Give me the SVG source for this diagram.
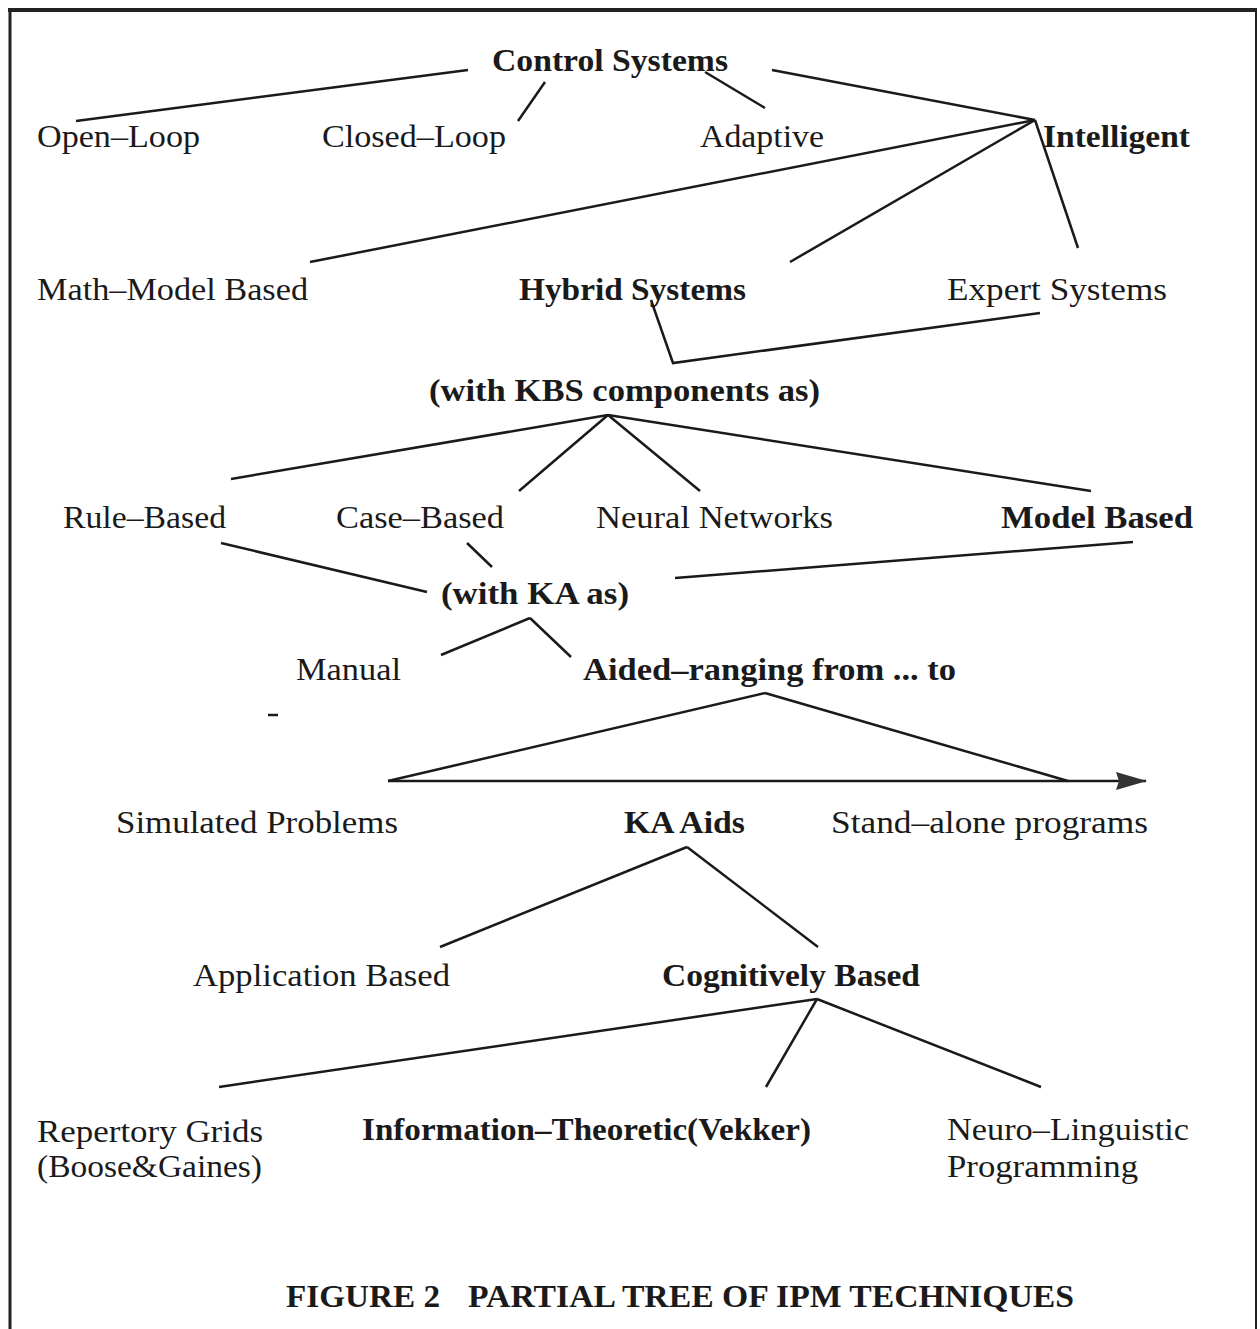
<svg xmlns="http://www.w3.org/2000/svg" width="1260" height="1329" viewBox="0 0 1260 1329">
<style>
text{font-family:"Liberation Serif","Times New Roman",serif;font-size:32px;fill:#1a1a1a}
.b{font-weight:bold}
.c line,.c polyline{stroke:#1a1a1a;stroke-width:2.5;fill:none}
</style>
<defs>
<marker id="ah" markerWidth="32" markerHeight="20" refX="30" refY="10" orient="auto" markerUnits="userSpaceOnUse">
<path d="M0,1 L31,10 L0,19 L3,10 Z" fill="#333"/>
</marker>
</defs>
<rect width="1260" height="1329" fill="#fff"/>
<g id="frame" stroke="#222" fill="none">
<line x1="8" y1="10" x2="1257" y2="10" stroke-width="4"/>
<line x1="10" y1="8" x2="10" y2="1329" stroke-width="3"/>
<line x1="1256" y1="8" x2="1256" y2="1329" stroke-width="2"/>
</g>
<g class="c" id="connectors">
<line x1="468" y1="70" x2="76" y2="121"/>
<line x1="545" y1="82" x2="518" y2="121"/>
<line x1="705" y1="72" x2="765" y2="108"/>
<line x1="772" y1="70" x2="1035" y2="120"/>
<line x1="1035" y1="120" x2="310" y2="262"/>
<line x1="1035" y1="120" x2="790" y2="262"/>
<line x1="1035" y1="120" x2="1078" y2="248"/>
<polyline points="651,300 673,363 1040,313"/>
<line x1="608" y1="415" x2="231" y2="479"/>
<line x1="608" y1="415" x2="519" y2="491"/>
<line x1="608" y1="415" x2="700" y2="491"/>
<line x1="608" y1="415" x2="1091" y2="491"/>
<line x1="221" y1="543" x2="427" y2="592"/>
<line x1="467" y1="543" x2="492" y2="567"/>
<line x1="675" y1="578" x2="1133" y2="542"/>
<line x1="530" y1="618" x2="441" y2="655"/>
<line x1="530" y1="618" x2="571" y2="657"/>
<line x1="765" y1="693" x2="388" y2="781"/>
<line x1="765" y1="693" x2="1068" y2="781"/>
<line x1="388" y1="781" x2="1146" y2="781" marker-end="url(#ah)"/>
<line x1="687" y1="847" x2="440" y2="947"/>
<line x1="687" y1="847" x2="818" y2="947"/>
<line x1="817" y1="999" x2="219" y2="1087"/>
<line x1="817" y1="999" x2="766" y2="1087"/>
<line x1="817" y1="999" x2="1041" y2="1087"/>
<line x1="268" y1="715" x2="278" y2="715" stroke-width="3"/>
</g>
<g id="n-control"><text class="b" x="492" y="71" textLength="236" lengthAdjust="spacingAndGlyphs">Control Systems</text></g>
<g id="n-openloop"><text x="37" y="147" textLength="163" lengthAdjust="spacingAndGlyphs">Open–Loop</text></g>
<g id="n-closedloop"><text x="322" y="147" textLength="184" lengthAdjust="spacingAndGlyphs">Closed–Loop</text></g>
<g id="n-adaptive"><text x="700" y="147" textLength="124" lengthAdjust="spacingAndGlyphs">Adaptive</text></g>
<g id="n-intelligent"><text class="b" x="1043" y="147" textLength="147" lengthAdjust="spacingAndGlyphs">Intelligent</text></g>
<g id="n-math"><text x="37" y="300" textLength="271" lengthAdjust="spacingAndGlyphs">Math–Model Based</text></g>
<g id="n-hybrid"><text class="b" x="519" y="300" textLength="227" lengthAdjust="spacingAndGlyphs">Hybrid Systems</text></g>
<g id="n-expert"><text x="947" y="300" textLength="220" lengthAdjust="spacingAndGlyphs">Expert Systems</text></g>
<g id="n-kbs"><text class="b" x="429" y="401" textLength="391" lengthAdjust="spacingAndGlyphs">(with KBS components as)</text></g>
<g id="n-rule"><text x="63" y="528" textLength="163" lengthAdjust="spacingAndGlyphs">Rule–Based</text></g>
<g id="n-case"><text x="336" y="528" textLength="168" lengthAdjust="spacingAndGlyphs">Case–Based</text></g>
<g id="n-neural"><text x="596" y="528" textLength="237" lengthAdjust="spacingAndGlyphs">Neural Networks</text></g>
<g id="n-model"><text class="b" x="1001" y="528" textLength="192" lengthAdjust="spacingAndGlyphs">Model Based</text></g>
<g id="n-ka"><text class="b" x="441" y="604" textLength="188" lengthAdjust="spacingAndGlyphs">(with KA as)</text></g>
<g id="n-manual"><text x="296" y="680" textLength="105" lengthAdjust="spacingAndGlyphs">Manual</text></g>
<g id="n-aided"><text class="b" x="583" y="680" textLength="373" lengthAdjust="spacingAndGlyphs">Aided–ranging from ... to</text></g>
<g id="n-simulated"><text x="116" y="833" textLength="282" lengthAdjust="spacingAndGlyphs">Simulated Problems</text></g>
<g id="n-kaaids"><text class="b" x="624" y="833" textLength="121" lengthAdjust="spacingAndGlyphs">KA Aids</text></g>
<g id="n-standalone"><text x="831" y="833" textLength="317" lengthAdjust="spacingAndGlyphs">Stand–alone programs</text></g>
<g id="n-application"><text x="193" y="986" textLength="257" lengthAdjust="spacingAndGlyphs">Application Based</text></g>
<g id="n-cognitive"><text class="b" x="662" y="986" textLength="258" lengthAdjust="spacingAndGlyphs">Cognitively Based</text></g>
<g id="n-repertory"><text x="37" y="1142" textLength="226" lengthAdjust="spacingAndGlyphs">Repertory Grids</text><text x="37" y="1177" textLength="225" lengthAdjust="spacingAndGlyphs">(Boose&amp;Gaines)</text></g>
<g id="n-info"><text class="b" x="362" y="1140" textLength="449" lengthAdjust="spacingAndGlyphs">Information–Theoretic(Vekker)</text></g>
<g id="n-neuro"><text x="947" y="1140" textLength="242" lengthAdjust="spacingAndGlyphs">Neuro–Linguistic</text><text x="947" y="1177" textLength="191" lengthAdjust="spacingAndGlyphs">Programming</text></g>
<g id="caption"><text class="b" x="286" y="1307" textLength="154" lengthAdjust="spacingAndGlyphs">FIGURE 2</text><text class="b" x="468" y="1307" textLength="606" lengthAdjust="spacingAndGlyphs">PARTIAL TREE OF IPM TECHNIQUES</text></g>
</svg>
